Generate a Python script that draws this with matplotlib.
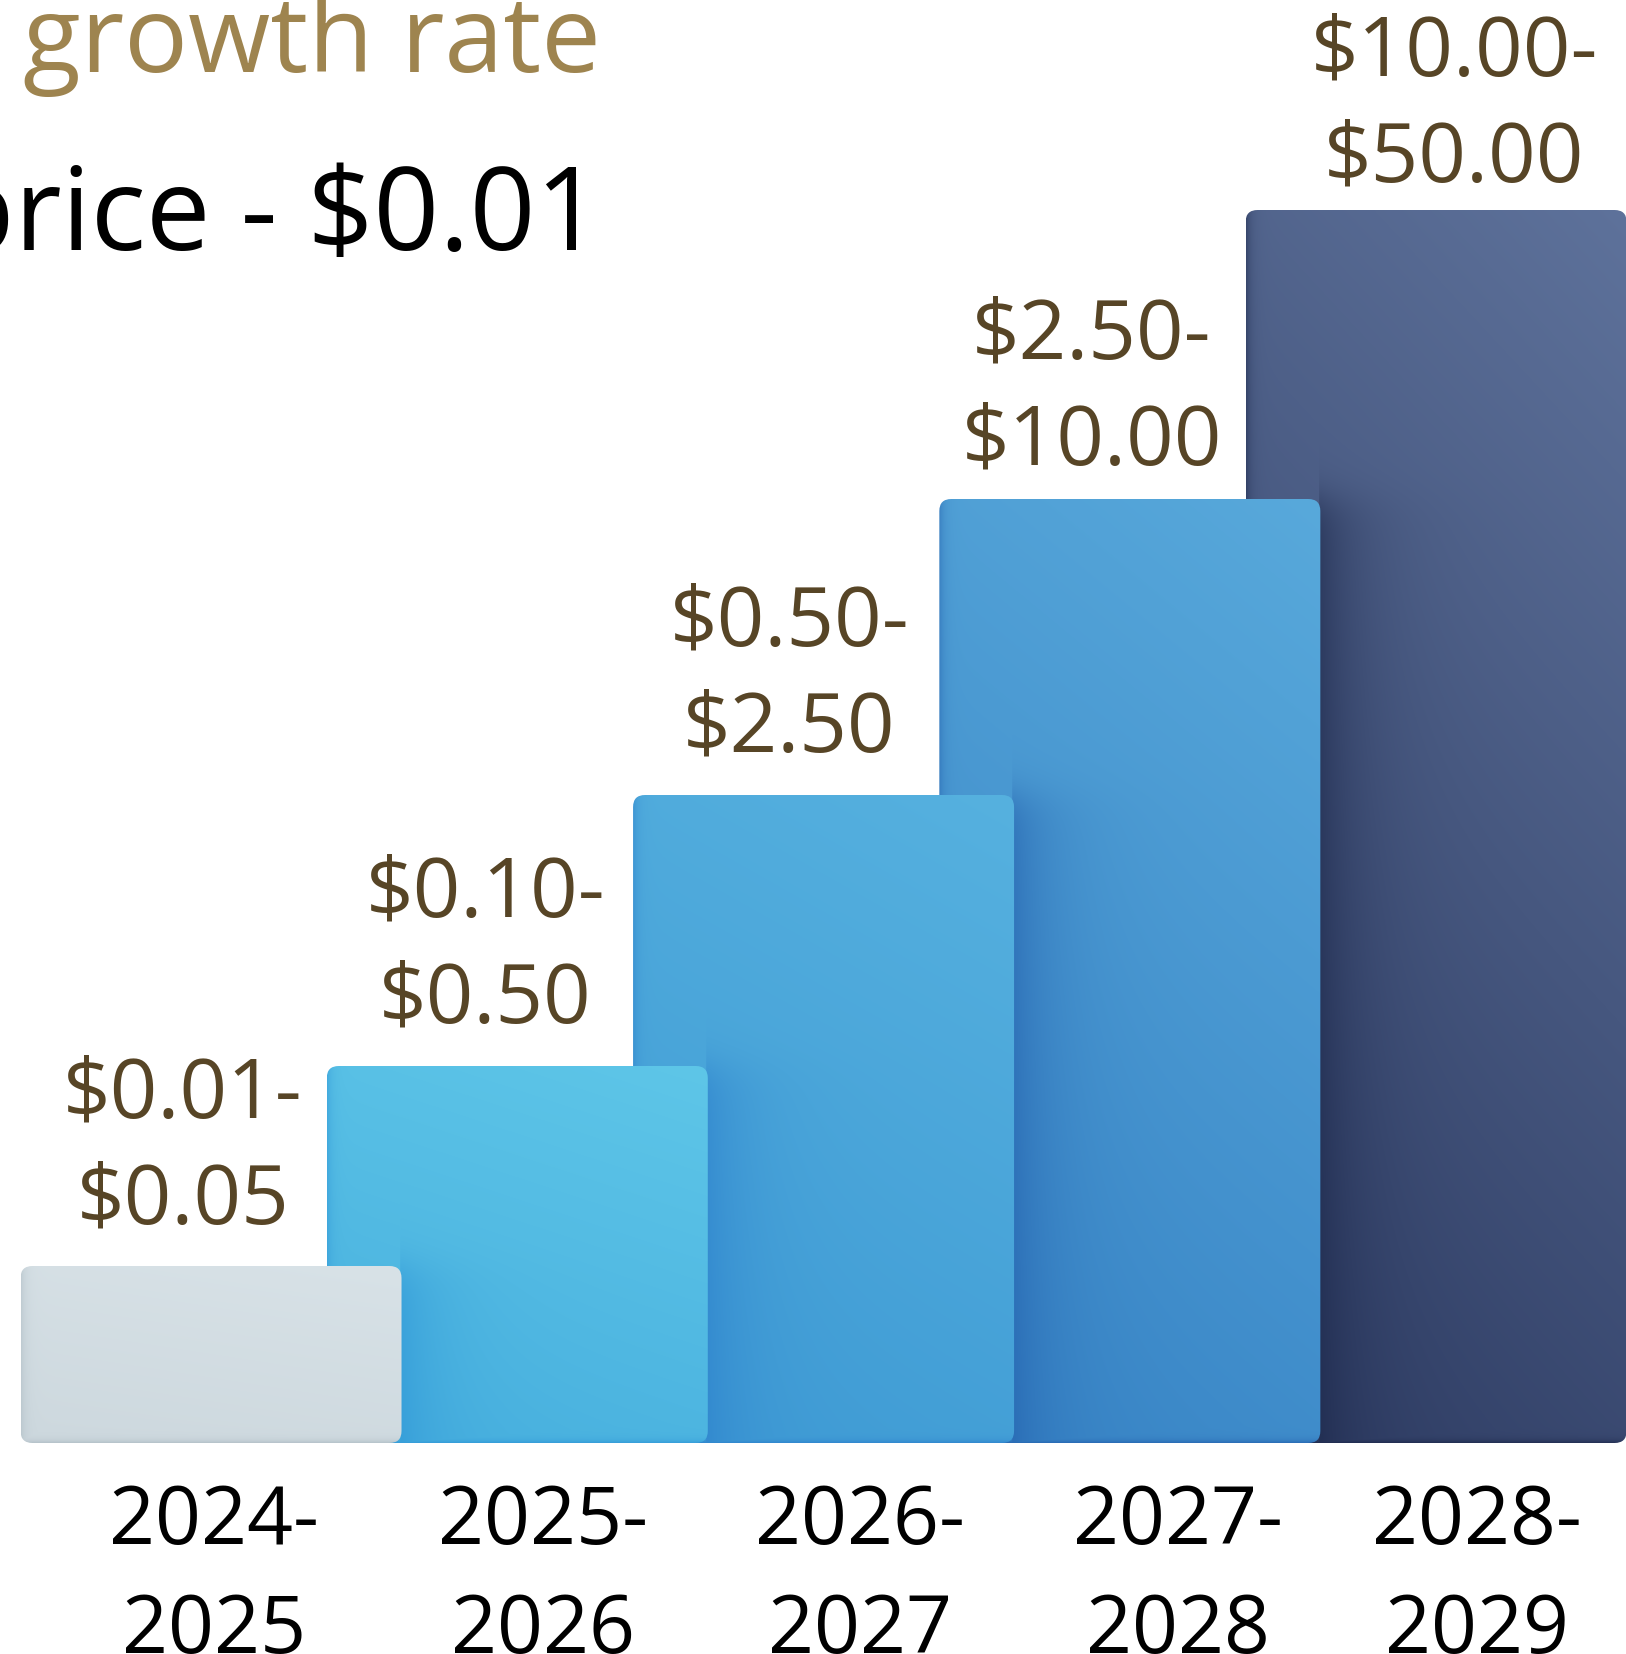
import numpy as np
import matplotlib.pyplot as plt
from matplotlib import colors as mcolors
from matplotlib.patches import FancyBboxPatch

# data
periods = ["2024-\n2025", "2025-\n2026", "2026-\n2027", "2027-\n2028", "2028-\n2029"]
price_low = [0.01, 0.10, 0.50, 2.50, 10.00]
price_high = [0.05, 0.50, 2.50, 10.00, 50.00]
bar_level = [1.77, 3.77, 6.48, 9.44, 12.33]  # visual step height of each bar
start_price = 0.01

# styles (top colour, bottom colour, cast-shadow colour)
BAR_STYLE = [
    ("#d8e2e7", "#cdd8de", "#a9b7bf"),
    ("#5ec6e8", "#47afde", "#2c93d6"),
    ("#56b1df", "#3e9ad4", "#2a7dcb"),
    ("#58a9db", "#3783c5", "#215dab"),
    ("#5e729b", "#2e3c63", "#192446"),
]
LABEL_OFFSET = [(-28, 117), (-32, 118), (-34, 118), (-38, 109), (18, 103)]  # px
TICK_OFFSET = [3, 26, 36, 48, 41]  # px
FONT = ["Open Sans", "DejaVu Sans"]

W, H, DPI = 1626, 1654, 100
XLIM = (-0.689, 4.620)
YLIM = (-2.11, 14.43)

fig = plt.figure(figsize=(W / DPI, H / DPI), dpi=DPI)
ax = fig.add_axes([0, 0, 1, 1])
ax.set_autoscale_on(False)
ax.set_xlim(*XLIM)
ax.set_ylim(*YLIM)
ax.axis("off")

px_x = W / (XLIM[1] - XLIM[0])
px_y = H / (YLIM[1] - YLIM[0])
pt = 72 / DPI

x = np.arange(len(periods))
bars = ax.bar(x, bar_level, width=1.244)
prev = None
for i, b in enumerate(bars):
    b.set_visible(False)
    x0, y0, bw, bh = b.get_x(), b.get_y(), b.get_width(), b.get_height()
    z = 10 - i
    wpx, hpx = int(round(bw * px_x)), int(round(bh * px_y))
    top, bot, shd = [np.array(mcolors.to_rgb(c)) for c in BAR_STYLE[i]]
    xx = np.arange(wpx)[None, :].astype(float)
    yy = np.arange(hpx)[:, None].astype(float)
    t = 0.75 * yy / hpx + 0.25 * xx / wpx
    rgb = bot[None, None, :] * (1 - t[..., None]) + top[None, None, :] * t[..., None]
    # thin darker left edge
    s = 0.45 * np.exp(-xx / 5.0) * np.ones_like(yy)
    # cast shadow from the bar in front
    if prev is not None:
        ov = (prev.get_x() + prev.get_width() - x0) * px_x
        hp = prev.get_height() * px_y
        cast = 0.55 * np.exp(-np.clip(xx - ov, 0, None) / 40.0) * (xx >= ov - 2)
        cast = cast / (1 + np.exp((yy - hp) / 12.0))
        s = np.maximum(s, cast)
    # darker bottom rim
    rim = 0.6 * np.exp(-yy / 3.0) * np.ones_like(xx)
    s = np.maximum(s, rim)
    rgb = rgb * (1 - s[..., None]) + shd[None, None, :] * s[..., None]

    patch = FancyBboxPatch((x0, y0), bw, bh,
                           boxstyle=f"round,pad=0,rounding_size={12 / px_x}",
                           mutation_aspect=px_x / px_y,
                           facecolor="none", edgecolor="none", zorder=z)
    ax.add_patch(patch)
    im = ax.imshow(rgb, origin="lower", extent=(x0, x0 + bw, y0, y0 + bh),
                   aspect="auto", interpolation="bilinear", zorder=z)
    im.set_clip_path(patch)

    # price range above the bar
    dx, dy = LABEL_OFFSET[i]
    ax.annotate(f"${price_low[i]:.2f}-\n${price_high[i]:.2f}",
                xy=(x[i], bar_level[i]), xytext=(dx * pt, dy * pt),
                textcoords="offset points", ha="center", va="center",
                fontsize=60, color="#574526", family=FONT,
                linespacing=1.38, zorder=20)
    # period under the bar
    ax.annotate(periods[i], xy=(x[i], 0), xytext=(TICK_OFFSET[i] * pt, -134 * pt),
                textcoords="offset points", ha="center", va="center",
                fontsize=58, color="black", family=FONT,
                linespacing=1.46, zorder=20)
    prev = b

fig.text(23 / W, 1 - 72 / H, "growth rate", ha="left", va="baseline",
         fontsize=76.5, color="#9e844f", family=FONT)
fig.text(601 / W, 1 - 250 / H, f"price - ${start_price:.2f}", ha="right",
         va="baseline", fontsize=83, color="black", family=FONT)

fig.savefig("out.png", dpi=DPI, facecolor="white")
